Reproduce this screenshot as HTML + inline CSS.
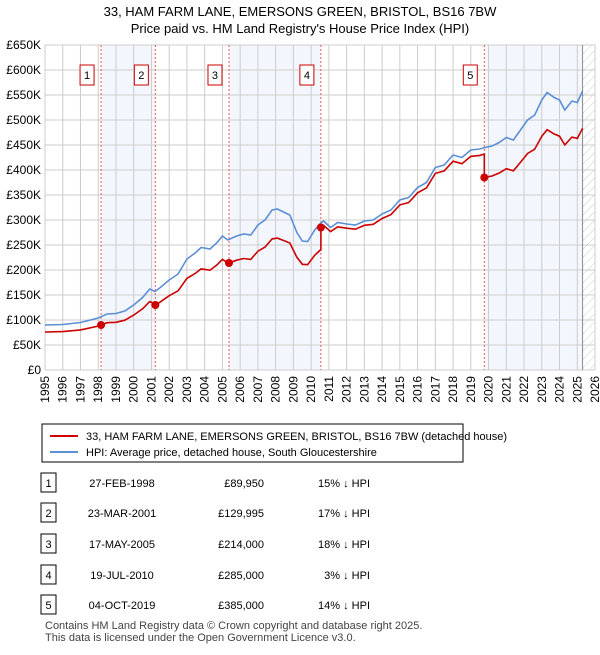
<!DOCTYPE html>
<html><head><meta charset="utf-8"><style>
body{margin:0;background:#fff;font-family:"Liberation Sans","DejaVu Sans",sans-serif;}
svg text{font-family:"Liberation Sans","DejaVu Sans",sans-serif;}
</style></head><body>
<svg id="c" width="600" height="650" xmlns="http://www.w3.org/2000/svg">
<defs><pattern id="hatch" width="6" height="6" patternUnits="userSpaceOnUse" patternTransform="rotate(45)"><line x1="0" y1="0" x2="0" y2="6" stroke="#ccc" stroke-width="1"/></pattern></defs>
<text x="300" y="16" text-anchor="middle" font-size="13">33, HAM FARM LANE, EMERSONS GREEN, BRISTOL, BS16 7BW</text>
<text x="300" y="33" text-anchor="middle" font-size="13">Price paid vs. HM Land Registry's House Price Index (HPI)</text>
<g id="plot"></g>
<g id="legend">
<rect x="42" y="424" width="421" height="38" fill="#fff" stroke="#000" stroke-width="1"/>
<line x1="50" y1="436" x2="78" y2="436" stroke="#cc0000" stroke-width="2"/>
<text x="86" y="440" font-size="11">33, HAM FARM LANE, EMERSONS GREEN, BRISTOL, BS16 7BW (detached house)</text>
<line x1="50" y1="452" x2="78" y2="452" stroke="#5b8fd6" stroke-width="2"/>
<text x="86" y="456" font-size="11">HPI: Average price, detached house, South Gloucestershire</text>
</g>
<g id="table"></g>
<text x="45" y="629" font-size="11" fill="#444">Contains HM Land Registry data © Crown copyright and database right 2025.</text>
<text x="45" y="641" font-size="11" fill="#444">This data is licensed under the Open Government Licence v3.0.</text>
</svg>
<script>
const hpiYears=[1995,1996,1997,1998,1998.5,1999,1999.5,2000,2000.5,2000.9,2001.2,2001.5,2002,2002.5,2003,2003.5,2003.8,2004.3,2004.7,2005,2005.3,2005.8,2006.2,2006.6,2007,2007.4,2007.8,2008.1,2008.5,2008.8,2009.2,2009.5,2009.8,2010.2,2010.5,2010.7,2011.1,2011.5,2012,2012.5,2013,2013.5,2014,2014.5,2015,2015.5,2016,2016.5,2017,2017.5,2018,2018.5,2019,2019.5,2019.8,2020.2,2020.6,2021,2021.4,2021.8,2022.2,2022.6,2023,2023.3,2023.7,2024,2024.3,2024.7,2025,2025.3];
const hpiValues=[90,91,95,104,112,113,118,130,145,162,157,165,180,192,222,235,245,242,255,268,260,268,272,270,290,300,320,322,315,310,275,258,257,280,292,298,285,295,292,290,298,300,312,320,340,345,365,375,405,410,430,425,440,442,445,448,455,465,460,480,500,510,540,555,545,540,520,538,535,558];
const saleYears=[1998.16,2001.22,2005.37,2010.55,2019.76];
const salePrices=[89950,129995,214000,285000,385000];
const saleDates=["27-FEB-1998","23-MAR-2001","17-MAY-2005","19-JUL-2010","04-OCT-2019"];
const salePriceLabels=["£89,950","£129,995","£214,000","£285,000","£385,000"];
const saleDiffs=["15% ↓ HPI","17% ↓ HPI","18% ↓ HPI","3% ↓ HPI","14% ↓ HPI"];
const yTicks=[0,50,100,150,200,250,300,350,400,450,500,550,600,650];
const xTicks=[1995,1996,1997,1998,1999,2000,2001,2002,2003,2004,2005,2006,2007,2008,2009,2010,2011,2012,2013,2014,2015,2016,2017,2018,2019,2020,2021,2022,2023,2024,2025,2026];

const NS="http://www.w3.org/2000/svg";
const X0=45,X1=595,Y0=370,Y1=45;
const sx=y=>X0+(y-1995)/(2026-1995)*(X1-X0);
const sy=v=>Y0-v/650*(Y0-Y1);
function hpiAt(t){for(let i=0;i<hpiYears.length-1;i++){if(t<=hpiYears[i+1]){const f=(t-hpiYears[i])/(hpiYears[i+1]-hpiYears[i]);return hpiValues[i]+f*(hpiValues[i+1]-hpiValues[i]);}}return hpiValues[hpiValues.length-1];}
function mk(tag,attrs,parent){const e=document.createElementNS(NS,tag);for(const k in attrs)e.setAttribute(k,attrs[k]);parent.appendChild(e);return e;}
const g=document.getElementById('plot');
const bands=[[0,1],[2,3],[4,null]];
bands.forEach((b,i)=>{const xa=sx(saleYears[b[0]]);const xb=b[1]===null?sx(2025.3):sx(saleYears[b[1]]);
const r=mk('rect',{x:xa,y:Y1,width:xb-xa,height:Y0-Y1,fill:'#eef3fc',opacity:0.7},g);

});
const h=mk('rect',{x:sx(2025.3),y:Y1,width:X1-sx(2025.3),height:Y0-Y1,fill:'url(#hatch)'},g);


yTicks.forEach(v=>{mk('line',{x1:X0,x2:X1,y1:sy(v),y2:sy(v),stroke:'#ccc','stroke-width':1},g);
const t=mk('text',{x:X0-4,y:sy(v)+4,'text-anchor':'end','font-size':12},g);t.textContent='£'+(v===0?'0':v+'K');

});
xTicks.forEach(y=>{mk('line',{x1:sx(y),x2:sx(y),y1:Y1,y2:Y0,stroke:'#ccc','stroke-width':1},g);
const t=mk('text',{x:sx(y)+4,y:Y0+6,'text-anchor':'end','font-size':12,transform:'rotate(-90 '+(sx(y)+4)+' '+(Y0+6)+')'},g);t.textContent=y;

});
mk('line',{x1:sx(2025.3),x2:sx(2025.3),y1:Y1,y2:Y0,stroke:'#888','stroke-width':1},g);
saleYears.forEach((s,i)=>{mk('line',{x1:sx(s),x2:sx(s),y1:Y1,y2:Y0,stroke:'#e55','stroke-width':1,'stroke-dasharray':'2,2'},g);
const r=mk('rect',{x:sx(s)-21,y:65,width:14,height:20,fill:'#fff',stroke:'#cc0000'},g);


const t=mk('text',{x:sx(s)-14,y:79,'text-anchor':'middle','font-size':11},g);t.textContent=i+1;});
let d='';hpiYears.forEach((y,i)=>{d+=(i?'L':'M')+sx(y).toFixed(1)+','+sy(hpiValues[i]).toFixed(1);});
const hp=mk('path',{d:d,fill:'none',stroke:'#5b8fd6','stroke-width':1.6},g);


const ratios=saleYears.map((s,i)=>salePrices[i]/1000/hpiAt(s));
let pd='';let first=true;
const segStarts=[1995].concat(saleYears);
for(let k=0;k<segStarts.length;k++){const a=segStarts[k],b=k+1<segStarts.length?segStarts[k+1]:2025.3;const r=ratios[Math.max(0,k-1)];
const pts=[a].concat(hpiYears.filter(y=>y>a&&y<b)).concat([b]);
pts.forEach(t=>{pd+=(first?'M':'L')+sx(t).toFixed(1)+','+sy(hpiAt(t)*r).toFixed(1);first=false;});}
const pp=mk('path',{d:pd,fill:'none',stroke:'#cc0000','stroke-width':1.6},g);


saleYears.forEach((s,i)=>{const c=mk('circle',{cx:sx(s),cy:sy(salePrices[i]/1000),r:4,fill:'#cc0000'},g);

});
const tb=document.getElementById('table');
const rowY=[483,513,544,575,605];
saleDates.forEach((dt,i)=>{const y=rowY[i];
const r=mk('rect',{x:41,y:y-10,width:15,height:19,fill:'#fff',stroke:'#000'},tb);


const n=mk('text',{x:48.5,y:y+4,'text-anchor':'middle','font-size':11},tb);n.textContent=i+1;
const a=mk('text',{x:122,y:y+4,'text-anchor':'middle','font-size':11},tb);a.textContent=dt;


const p=mk('text',{x:264,y:y+4,'text-anchor':'end','font-size':11},tb);p.textContent=salePriceLabels[i];


const q=mk('text',{x:370,y:y+4,'text-anchor':'end','font-size':11},tb);q.textContent=saleDiffs[i];

});
</script>
</body></html>
